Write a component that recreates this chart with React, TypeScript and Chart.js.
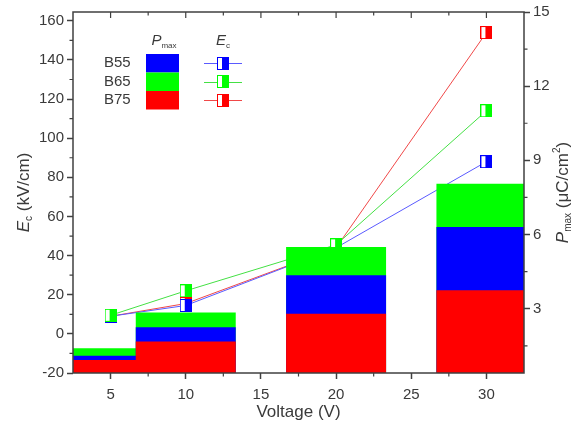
import React, { useEffect, useRef } from 'react';
import { Chart, registerables } from 'chart.js';

Chart.register(...registerables);

// ---- data ----
const voltages = [5, 10, 20, 30];
const seriesNames = ['B55', 'B65', 'B75'];
const seriesColors = ['#0000ff', '#00ff00', '#ff0000'];
const lineColors = ['#5a5aff', '#44e044', '#f04848'];

// Pmax (µC/cm²), right axis
const pmaxB55 = [1.1, 2.25, 4.35, 6.3];
const pmaxB65 = [1.4, 2.85, 5.5, 8.05];
const pmaxB75 = [0.93, 1.67, 2.8, 3.75];

// Ec (kV/cm), left axis
const ecB55 = [9, 14.5, 44, 88];
const ecB65 = [9.5, 22, 45.5, 114];
const ecB75 = [9, 15.5, 44, 154];

const xTicks = [5, 10, 15, 20, 25, 30];
const xMinorTicks = [7.5, 12.5, 17.5, 22.5, 27.5];
const leftTicks = [-20, 0, 20, 40, 60, 80, 100, 120, 140, 160];
const leftMinorTicks = [-10, 10, 30, 50, 70, 90, 110, 130, 150];
const rightTicks = [3, 6, 9, 12, 15];
const rightMinorTicks = [1.5, 4.5, 7.5, 10.5, 13.5];

const pmaxSeries = [pmaxB55, pmaxB65, pmaxB75];
const ecSeries = [ecB55, ecB65, ecB75];
const barOrder = [2, 3, 1];
const lineOrder = [12, 11, 13];

const FONT = '"Liberation Sans", Arial, sans-serif';
const TEXT = '#3a3a3a';
const AXIS = '#404040';

function makeMarker(color: string) {
  const c = document.createElement('canvas');
  c.width = 12;
  c.height = 13;
  const g = c.getContext('2d')!;
  g.fillStyle = '#ffffff';
  g.fillRect(0, 0, 12, 13);
  g.fillStyle = color;
  g.fillRect(5, 0, 7, 13);
  g.strokeStyle = color;
  g.lineWidth = 1;
  g.strokeRect(0.5, 0.5, 11, 12);
  return c;
}

type Run = { t: string; font: string; dy?: number };

function drawRuns(ctx: CanvasRenderingContext2D, runs: Run[], x: number, y: number, rot: number, align: 'center' | 'left' = 'center') {
  ctx.save();
  ctx.translate(x, y);
  ctx.rotate(rot);
  ctx.textBaseline = 'middle';
  ctx.textAlign = 'left';
  let total = 0;
  const widths = runs.map((r) => {
    ctx.font = r.font;
    const w = ctx.measureText(r.t).width;
    total += w;
    return w;
  });
  let cx = align === 'center' ? -total / 2 : 0;
  runs.forEach((r, i) => {
    ctx.font = r.font;
    ctx.fillText(r.t, cx, r.dy || 0);
    cx += widths[i];
  });
  ctx.restore();
}

export default function App() {
  const ref = useRef<HTMLCanvasElement>(null);

  useEffect(() => {
    document.body.style.margin = '0';
    const canvas = ref.current!;
    const markers = seriesColors.map(makeMarker);

    const decor = {
      id: 'decor',
      afterDraw(chart: any) {
        const { ctx, chartArea } = chart;
        const { left, right, top, bottom } = chartArea;
        const sx = chart.scales.x;
        const sy = chart.scales.y;
        const sy2 = chart.scales.y2;
        ctx.save();
        // frame
        ctx.strokeStyle = AXIS;
        ctx.lineWidth = 1.5;
        ctx.strokeRect(left, top, right - left, bottom - top);
        // minor ticks
        ctx.lineWidth = 1.2;
        ctx.beginPath();
        leftMinorTicks.forEach((v) => {
          const p = sy.getPixelForValue(v);
          ctx.moveTo(left - 3.5, p);
          ctx.lineTo(left, p);
        });
        rightMinorTicks.forEach((v) => {
          const p = sy2.getPixelForValue(v);
          ctx.moveTo(right, p);
          ctx.lineTo(right + 3.5, p);
        });
        xMinorTicks.forEach((v) => {
          const p = sx.getPixelForValue(v);
          ctx.moveTo(p, bottom);
          ctx.lineTo(p, bottom + 3.5);
          ctx.moveTo(p, top);
          ctx.lineTo(p, top + 3.5);
        });
        xTicks.forEach((v) => {
          const p = sx.getPixelForValue(v);
          ctx.moveTo(p, top);
          ctx.lineTo(p, top + 6);
        });
        ctx.stroke();

        // axis titles
        ctx.fillStyle = TEXT;
        const midY = (top + bottom) / 2;
        drawRuns(ctx, [
          { t: 'E', font: `italic 17px ${FONT}` },
          { t: 'c', font: `10px ${FONT}`, dy: 5 },
          { t: ' (kV/cm)', font: `17px ${FONT}` },
        ], 24, midY, -Math.PI / 2);
        drawRuns(ctx, [
          { t: 'P', font: `italic 17px ${FONT}` },
          { t: 'max', font: `10px ${FONT}`, dy: 5 },
          { t: ' (\u03bcC/cm', font: `17px ${FONT}` },
          { t: '2', font: `10px ${FONT}`, dy: -6 },
          { t: ')', font: `17px ${FONT}` },
        ], 563, midY, -Math.PI / 2);
        drawRuns(ctx, [{ t: 'Voltage (V)', font: `17px ${FONT}` }], (left + right) / 2, 412, 0);

        // legend
        drawRuns(ctx, [
          { t: 'P', font: `italic 15px ${FONT}` },
          { t: 'max', font: `8px ${FONT}`, dy: 5 },
        ], 164, 41, 0);
        drawRuns(ctx, [
          { t: 'E', font: `italic 15px ${FONT}` },
          { t: 'c', font: `8px ${FONT}`, dy: 5 },
        ], 223, 41, 0);
        const rowH = 18.5;
        const row0 = 54;
        seriesNames.forEach((name, i) => {
          const cy = row0 + rowH * i + rowH / 2;
          ctx.fillStyle = TEXT;
          drawRuns(ctx, [{ t: name, font: `15px ${FONT}` }], 104, cy, 0, 'left');
          ctx.fillStyle = seriesColors[i];
          ctx.fillRect(146, row0 + rowH * i, 33, rowH);
          ctx.strokeStyle = lineColors[i];
          ctx.lineWidth = 1;
          ctx.beginPath();
          ctx.moveTo(204, Math.round(cy) + 0.5);
          ctx.lineTo(242, Math.round(cy) + 0.5);
          ctx.stroke();
          const m = markers[i];
          ctx.drawImage(m, Math.round(223 - m.width / 2), Math.round(cy - m.height / 2));
        });
        ctx.restore();
      },
    };

    const datasets: any[] = [];
    seriesNames.forEach((name, i) => {
      datasets.push({
        type: 'bar',
        label: `${name} Pmax`,
        data: voltages.map((v, j) => ({ x: v, y: pmaxSeries[i][j] })),
        backgroundColor: seriesColors[i],
        borderWidth: 0,
        xAxisID: 'x',
        yAxisID: 'y2',
        grouped: false,
        categoryPercentage: 1,
        barPercentage: 1.33,
        order: barOrder[i],
      });
    });
    seriesNames.forEach((name, i) => {
      datasets.push({
        type: 'line',
        label: `${name} Ec`,
        data: voltages.map((v, j) => ({ x: v, y: ecSeries[i][j] })),
        borderColor: lineColors[i],
        backgroundColor: seriesColors[i],
        borderWidth: 1,
        pointStyle: markers[i],
        pointRadius: 6,
        xAxisID: 'x',
        yAxisID: 'y',
        order: lineOrder[i],
      });
    });

    const tickFont = { family: FONT, size: 15 };
    const chart = new Chart(canvas, {
      type: 'bar',
      data: { datasets },
      plugins: [decor],
      options: {
        responsive: false,
        animation: false,
        devicePixelRatio: 1,
        layout: { padding: { top: 12, left: 0, right: 0, bottom: 0 } },
        plugins: { legend: { display: false }, tooltip: { enabled: false } },
        scales: {
          x: {
            type: 'linear',
            position: 'bottom',
            min: 2.5,
            max: 32.5,
            offset: false,
            grid: { display: true, offset: false, drawOnChartArea: false, drawTicks: true, tickLength: 6, tickColor: AXIS, tickWidth: 1.5 },
            border: { display: false },
            ticks: { font: tickFont, color: TEXT, padding: 7, maxRotation: 0, autoSkip: false },
            afterBuildTicks: (s: any) => { s.ticks = xTicks.map((v) => ({ value: v })); },
            afterFit: (s: any) => { s.height = 55; },
          },
          y: {
            type: 'linear',
            position: 'left',
            min: -20,
            max: 164.5,
            grid: { display: true, drawOnChartArea: false, drawTicks: true, tickLength: 6, tickColor: AXIS, tickWidth: 1.5 },
            border: { display: false },
            ticks: { font: tickFont, color: TEXT, padding: 3, autoSkip: false },
            afterBuildTicks: (s: any) => { s.ticks = leftTicks.map((v) => ({ value: v })); },
            afterFit: (s: any) => { s.width = 73; },
          },
          y2: {
            type: 'linear',
            position: 'right',
            min: 0.4,
            max: 15,
            grid: { display: true, drawOnChartArea: false, drawTicks: true, tickLength: 6, tickColor: AXIS, tickWidth: 1.5 },
            border: { display: false },
            ticks: { font: tickFont, color: TEXT, padding: 3, autoSkip: false },
            afterBuildTicks: (s: any) => { s.ticks = rightTicks.map((v) => ({ value: v })); },
            afterFit: (s: any) => { s.width = 50; },
          },
        },
      } as any,
    });
    return () => chart.destroy();
  }, []);

  return (
    <div style={{ width: 574, height: 428 }}>
      <canvas ref={ref} width={574} height={428} style={{ display: 'block' }} />
    </div>
  );
}
